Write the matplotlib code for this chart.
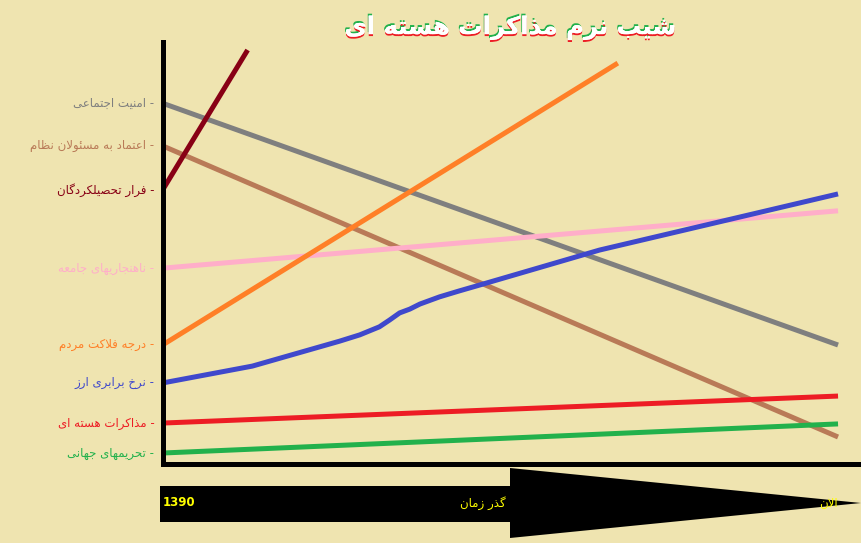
import numpy as np
import matplotlib as mpl
import matplotlib.pyplot as plt
import matplotlib.patheffects as pe
from matplotlib.patches import Polygon

# --- data (time axis 0 = 1390, 100 = now; value axis 0..100)
title_fa = "شیب نرم مذاکرات هسته ای"

series_names = [
    "امنیت اجتماعی",
    "اعتماد به مسئولان نظام",
    "فرار تحصیلکردگان",
    "ناهنجاریهای جامعه",
    "درجه فلاکت مردم",
    "نرخ برابری ارز",
    "مذاکرات هسته ای",
    "تحریمهای جهانی",
]
series_colors = ["#7F7F7F", "#B97A57", "#880015", "#FFAEC9",
                 "#FF7F27", "#3F48CC", "#ED1C24", "#22B14C"]

x_gray, y_gray = [0, 100], [85.5, 28.2]
x_brown, y_brown = [0, 100], [75.4, 6.4]
x_darkred, y_darkred = [0, 12.6], [64.9, 98.1]
x_pink, y_pink = [0, 100], [46.4, 60.0]
x_orange, y_orange = [0, 67.4], [28.2, 95.0]
x_blue = [0, 13.3, 26.2, 29.2, 32.1, 33.6, 35.1, 36.6, 38.1, 41.0, 43.9, 46.5, 64.7, 100]
y_blue = [19.2, 23.2, 29.1, 30.6, 32.5, 34.1, 35.8, 36.7, 37.9, 39.6, 41.0, 42.2, 50.7, 64.0]
x_red, y_red = [0, 100], [9.7, 16.1]
x_green, y_green = [0, 100], [2.6, 9.5]

series_x = [x_gray, x_brown, x_darkred, x_pink, x_orange, x_blue, x_red, x_green]
series_y = [y_gray, y_brown, y_darkred, y_pink, y_orange, y_blue, y_red, y_green]

start_label = "1390"
mid_label = "گذر زمان"
end_label = "الان"

# --- tiny Persian shaper (matplotlib has no shaping / bidi)
FORMS = {
    'ا': (0xFE8D, 0xFE8E), 'آ': (0xFE81, 0xFE82),
    'د': (0xFEA9, 0xFEAA), 'ذ': (0xFEAB, 0xFEAC),
    'ر': (0xFEAD, 0xFEAE), 'ز': (0xFEAF, 0xFEB0),
    'ژ': (0xFB8A, 0xFB8B), 'و': (0xFEED, 0xFEEE),
    'ب': (0xFE8F, 0xFE90, 0xFE91, 0xFE92), 'پ': (0xFB56, 0xFB57, 0xFB58, 0xFB59),
    'ت': (0xFE95, 0xFE96, 0xFE97, 0xFE98), 'ث': (0xFE99, 0xFE9A, 0xFE9B, 0xFE9C),
    'ج': (0xFE9D, 0xFE9E, 0xFE9F, 0xFEA0), 'چ': (0xFB7A, 0xFB7B, 0xFB7C, 0xFB7D),
    'ح': (0xFEA1, 0xFEA2, 0xFEA3, 0xFEA4), 'خ': (0xFEA5, 0xFEA6, 0xFEA7, 0xFEA8),
    'س': (0xFEB1, 0xFEB2, 0xFEB3, 0xFEB4), 'ش': (0xFEB5, 0xFEB6, 0xFEB7, 0xFEB8),
    'ص': (0xFEB9, 0xFEBA, 0xFEBB, 0xFEBC), 'ض': (0xFEBD, 0xFEBE, 0xFEBF, 0xFEC0),
    'ط': (0xFEC1, 0xFEC2, 0xFEC3, 0xFEC4), 'ظ': (0xFEC5, 0xFEC6, 0xFEC7, 0xFEC8),
    'ع': (0xFEC9, 0xFECA, 0xFECB, 0xFECC), 'غ': (0xFECD, 0xFECE, 0xFECF, 0xFED0),
    'ف': (0xFED1, 0xFED2, 0xFED3, 0xFED4), 'ق': (0xFED5, 0xFED6, 0xFED7, 0xFED8),
    'ک': (0xFB8E, 0xFB8F, 0xFB90, 0xFB91), 'گ': (0xFB92, 0xFB93, 0xFB94, 0xFB95),
    'ل': (0xFEDD, 0xFEDE, 0xFEDF, 0xFEE0), 'م': (0xFEE1, 0xFEE2, 0xFEE3, 0xFEE4),
    'ن': (0xFEE5, 0xFEE6, 0xFEE7, 0xFEE8), 'ه': (0xFEE9, 0xFEEA, 0xFEEB, 0xFEEC),
    'ی': (0xFBFC, 0xFBFD, 0xFBFE, 0xFBFF), 'ئ': (0xFE89, 0xFE8A, 0xFE8B, 0xFE8C),
}


def fa(text):
    out = []
    i = 0
    n = len(text)
    while i < n:
        ch = text[i]
        if ch not in FORMS:
            out.append(ch)
            i += 1
            continue
        prev = text[i - 1] if i > 0 else ""
        prev_joins = prev in FORMS and len(FORMS[prev]) == 4
        # lam-alef ligature
        if ch == 'ل' and i + 1 < n and text[i + 1] == 'ا':
            out.append(chr(0xFEFC if prev_joins else 0xFEFB))
            i += 2
            continue
        f = FORMS[ch]
        nxt = text[i + 1] if i + 1 < n else ""
        next_joins = len(f) == 4 and nxt in FORMS
        if prev_joins and next_joins:
            code = f[3]
        elif next_joins:
            code = f[2]
        elif prev_joins:
            code = f[1]
        else:
            code = f[0]
        out.append(chr(code))
        i += 1
    return "".join(out)[::-1]


# --- style
bg = "#EFE4B0"
mpl.rcParams.update({
    "font.family": ["DejaVu Sans"],
    "axes.spines.top": False,
    "axes.spines.right": False,
})

W, H = 861, 543
fig = plt.figure(figsize=(W / 100, H / 100), dpi=100, facecolor=bg)

ax = fig.add_axes([162.5 / W, (H - 464) / H, (W - 162.5) / W, (464 - 42) / H])
ax.set_facecolor(bg)
ax.set_xlim(0, 103.4)
ax.set_ylim(0, 100)
ax.set_xticks([])
ax.set_yticks([])
for s in ("left", "bottom"):
    ax.spines[s].set_linewidth(3.6)
    ax.spines[s].set_color("black")
    ax.spines[s].set_zorder(5)

for name, col, xs, ys in zip(series_names, series_colors, series_x, series_y):
    ax.plot(xs, ys, color=col, lw=3.6, solid_capstyle="butt",
            solid_joinstyle="round", zorder=3)
    ax.text(-1.2, ys[0], fa(name) + " -", ha="right", va="center",
            fontsize=8.5, color=col, clip_on=False)

# title: white face with green (top) and red (bottom) shadows
fig.text(510 / W, 1 - 28 / H, fa(title_fa), ha="center", va="center",
         fontsize=17.5, fontweight="bold", color="white",
         path_effects=[
             pe.withSimplePatchShadow(offset=(-0.7, 1.4), shadow_rgbFace="#22B14C", alpha=1),
             pe.withSimplePatchShadow(offset=(0, -1.4), shadow_rgbFace="#ED1C24", alpha=1),
             pe.Normal(),
         ])

# time arrow under the axis
ax2 = fig.add_axes([0, 0, 1, 1], zorder=-1)
ax2.set_xlim(0, W)
ax2.set_ylim(H, 0)
ax2.axis("off")
arrow = Polygon([(160, 486), (510, 486), (510, 468), (861, 503),
                 (510, 538), (510, 522), (160, 522)],
                closed=True, facecolor="black", edgecolor="none")
ax2.add_patch(arrow)
ax2.text(163, 503, start_label, color="#FFFF00", fontsize=8.5,
         fontweight="bold", ha="left", va="center")
ax2.text(506, 503, fa(mid_label), color="#FFFF00", fontsize=8.5,
         ha="right", va="center")
ax2.text(838, 503, fa(end_label), color="#FFFF00", fontsize=8.5,
         ha="right", va="center")

fig.savefig("out.png", dpi=100, facecolor=bg)
